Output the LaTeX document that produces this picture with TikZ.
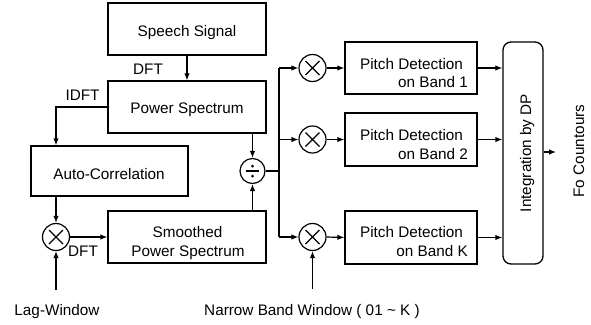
\documentclass[tikz,border=0pt]{standalone}
\usepackage{fontspec}
\setmainfont{Liberation Sans}
\usetikzlibrary{arrows.meta}
\begin{document}
\begin{tikzpicture}[x=1bp,y=-1bp,
  font=\fontsize{15.3bp}{18bp}\selectfont,
  blk/.style={draw, line width=1.3bp, inner sep=0},
  txt/.style={inner sep=0, anchor=base},
  ln/.style={line width=1.2bp},
  con/.style={line width=1.2bp, -{Latex[length=7bp,width=5.5bp]}},
  opc/.style={draw, circle, line width=1.2bp, minimum size=27bp, inner sep=0}]
\useasboundingbox (0,0) rectangle (591,324);

% boxes
\node[blk, minimum width=158bp, minimum height=52bp] (ss) at (187,29) {};
\node[blk, minimum width=158bp, minimum height=52bp] (ps) at (187,107) {};
\node[blk, minimum width=157bp, minimum height=50bp] (ac) at (109.5,171) {};
\node[blk, minimum width=158bp, minimum height=52bp] (sp) at (187,237) {};
\node[blk, minimum width=132bp, minimum height=52bp] (p1) at (411,68) {};
\node[blk, minimum width=132bp, minimum height=53bp] (p2) at (411,139.5) {};
\node[blk, minimum width=132bp, minimum height=53bp] (pk) at (411,237.5) {};
\node[blk, rounded corners=8bp, minimum width=40bp, minimum height=222bp] (dp) at (523,153) {};

% texts
\node[txt] (sst) at (187,36.5) {Speech Signal};
\node[txt] (pst) at (187,113) {Power Spectrum};
\node[txt] (act) at (109,179) {Auto-Correlation};
\node[txt] (spt1) at (187.5,237) {Smoothed};
\node[txt] (spt2) at (188,256.5) {Power Spectrum};
\node[txt] (p1a) at (411.5,69) {Pitch Detection};
\node[txt, anchor=base east] (p1b) at (468,87.3) {on Band 1};
\node[txt] (p2a) at (411.5,140.7) {Pitch Detection};
\node[txt, anchor=base east] (p2b) at (468,159.3) {on Band 2};
\node[txt] (pka) at (411.5,237.3) {Pitch Detection};
\node[txt, anchor=base east] (pkb) at (468,256) {on Band K};
\node[txt, rotate=90] (dpt) at (531,153) {Integration by DP};
\node[txt, rotate=90] (fo) at (584,151) {Fo Countours};
\node[txt] (dft1) at (148,74) {DFT};
\node[txt] (idft) at (82.5,100.7) {IDFT};
\node[txt] (dft2) at (83,256.7) {DFT};
\node[txt] (lag) at (57,315) {Lag-Window};
\node[txt] (nbw) at (312,315) {Narrow Band Window ( 01 \~{} K )};

% operators
\node[opc] (mx0) at (56,237) {};
\draw[ln] ([shift={(-7,-7)}]mx0.center) -- ([shift={(7,7)}]mx0.center)
          ([shift={(-7,7)}]mx0.center) -- ([shift={(7,-7)}]mx0.center);
\node[opc, minimum size=25bp] (dv) at (252.5,171) {};
\draw[ln] ([shift={(-6.5,0)}]dv.center) -- ([shift={(6.5,0)}]dv.center);
\fill ([shift={(0,-5)}]dv.center) circle (1.5bp) ([shift={(0,5)}]dv.center) circle (1.5bp);
\foreach \n/\yy in {m1/68, m2/139.5, mk/237}{
  \node[opc] (\n) at (312.5,\yy) {};
  \draw[ln] ([shift={(-7,-7)}]\n.center) -- ([shift={(7,7)}]\n.center)
            ([shift={(-7,7)}]\n.center) -- ([shift={(7,-7)}]\n.center);
}

% coordinates
\coordinate (bus1) at (279,68);
\coordinate (bus2) at (279,139.5);
\coordinate (busk) at (279,237);
\coordinate (busd) at (279,171);
\coordinate (lagin) at (56,290);
\coordinate (nbin) at (312.5,289);
\coordinate (idc) at (56,107);
\coordinate (outp) at (556,152);

% connectors
\draw[con] (ss.south) -- (ps.north);
\draw[con] (ps.west) -- (idc) -- (ac.north -| idc);
\draw[con] (ac.south -| mx0) -- (mx0.north);
\draw[con] (lagin) -- (mx0.south);
\draw[con] (mx0.east) -- (sp.west);
\draw[con] (ps.south -| dv) -- (dv.north);
\draw[con] (sp.north -| dv) -- (dv.south);
\draw[ln] (dv.east) -- (busd);
\draw[ln] (bus1) -- (busk);
\draw[con] (bus1) -- (m1.west);
\draw[con] (bus2) -- (m2.west);
\draw[con] (busk) -- (mk.west);
\draw[con] (m1.east) -- (p1.west);
\draw[con] (m2.east) -- (p2.west);
\draw[con] (mk.east) -- (pk.west);
\draw[con] (nbin) -- (mk.south);
\draw[con] (p1.east) -- (p1.east -| dp.west);
\draw[con] (p2.east) -- (p2.east -| dp.west);
\draw[con] (pk.east) -- (pk.east -| dp.west);
\draw[con] (dp.east |- outp) -- (outp);
\end{tikzpicture}
\end{document}
